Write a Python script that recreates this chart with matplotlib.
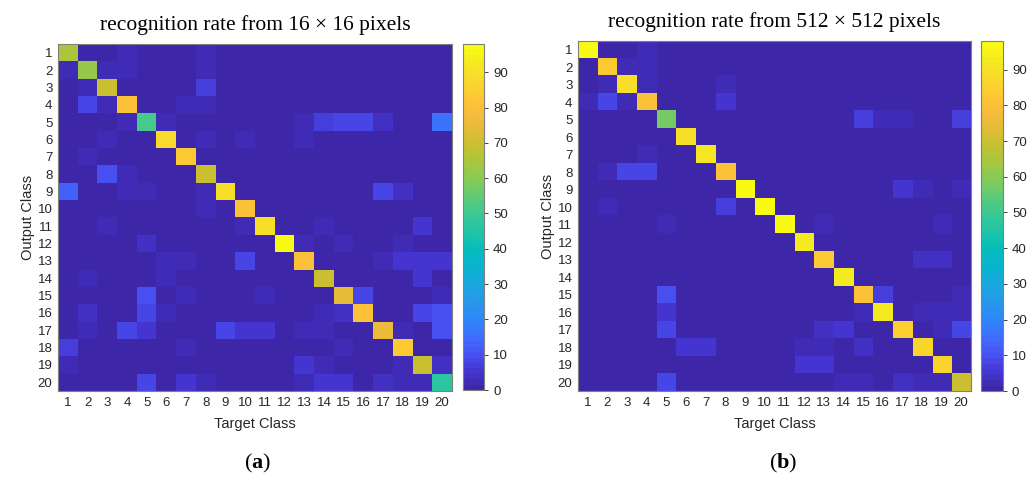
import numpy as np
import matplotlib
matplotlib.use("Agg")
import matplotlib.pyplot as plt
from matplotlib.colors import LinearSegmentedColormap

# clases 1..20 (filas = salida, columnas = objetivo)
clases = list(range(1, 21))
titulo_a = "recognition rate from 16 \u00d7 16 pixels"
titulo_b = "recognition rate from 512 \u00d7 512 pixels"

conf_16 = [
    [65, 0, 1, 3, 0, 0, 0, 2, 0, 0, 0, 0, 0, 0, 0, 0, 0, 0, 0, 0],
    [2, 62, 3, 3, 0, 0, 0, 2, 0, 0, 0, 0, 0, 0, 0, 0, 0, 0, 0, 0],
    [0, 3, 70, 0, 0, 0, 0, 7, 0, 0, 0, 0, 0, 0, 0, 0, 0, 0, 0, 0],
    [0, 8, 3, 80, 0, 0, 2, 2, 0, 0, 0, 0, 0, 0, 0, 0, 0, 0, 0, 0],
    [0, 0, 0, 2, 52, 2, 0, 0, 0, 0, 0, 0, 3, 7, 9, 9, 4, 0, 0, 16],
    [0, 0, 2, 0, 0, 88, 0, 2, 0, 3, 0, 0, 3, 0, 0, 0, 0, 0, 0, 0],
    [0, 2, 0, 0, 0, 0, 83, 0, 0, 0, 0, 0, 0, 0, 0, 0, 0, 0, 0, 0],
    [0, 0, 10, 2, 0, 0, 0, 70, 0, 0, 0, 0, 0, 0, 0, 0, 0, 0, 0, 0],
    [13, 0, 0, 3, 3, 0, 0, 2, 90, 0, 0, 0, 0, 0, 0, 0, 8, 4, 0, 0],
    [0, 0, 0, 0, 0, 0, 0, 3, 0, 80, 0, 0, 0, 0, 0, 0, 0, 0, 0, 0],
    [0, 0, 3, 0, 0, 0, 0, 0, 0, 3, 89, 0, 0, 3, 0, 0, 0, 0, 6, 0],
    [0, 0, 0, 0, 4, 0, 0, 0, 0, 0, 0, 97, 3, 0, 3, 0, 0, 2, 0, 0],
    [0, 0, 0, 0, 0, 2, 3, 0, 0, 8, 0, 0, 80, 0, 0, 0, 2, 6, 6, 6],
    [0, 3, 0, 0, 0, 2, 0, 0, 0, 0, 0, 0, 0, 70, 0, 0, 0, 0, 5, 0],
    [0, 0, 0, 0, 10, 0, 3, 0, 0, 0, 3, 0, 0, 0, 74, 8, 0, 0, 0, 3],
    [0, 4, 0, 0, 9, 3, 0, 0, 0, 0, 0, 0, 0, 2, 4, 80, 0, 0, 8, 10],
    [0, 2, 0, 9, 5, 0, 0, 0, 9, 6, 6, 0, 3, 3, 0, 0, 76, 2, 0, 10],
    [7, 0, 0, 0, 0, 0, 3, 0, 0, 0, 0, 0, 0, 0, 3, 0, 0, 84, 0, 0],
    [2, 0, 0, 0, 0, 0, 0, 0, 0, 0, 0, 0, 5, 2, 0, 0, 0, 2, 70, 4],
    [0, 1, 1, 0, 9, 0, 5, 2, 0, 0, 0, 0, 3, 5, 5, 0, 4, 2, 3, 46],
]

conf_512 = [
    [98, 0, 0, 3, 0, 0, 0, 0, 0, 0, 0, 0, 0, 0, 0, 0, 0, 0, 0, 0],
    [0, 84, 3, 2, 0, 0, 0, 0, 0, 0, 0, 0, 0, 0, 0, 0, 0, 0, 0, 0],
    [0, 2, 89, 3, 0, 0, 0, 3, 0, 0, 0, 0, 0, 0, 0, 0, 0, 0, 0, 0],
    [3, 8, 2, 80, 0, 0, 0, 5, 0, 0, 0, 0, 0, 0, 0, 0, 0, 0, 0, 0],
    [0, 0, 0, 0, 57, 0, 0, 0, 0, 0, 0, 0, 0, 0, 7, 3, 3, 0, 0, 7],
    [0, 0, 0, 0, 0, 90, 0, 0, 0, 0, 0, 0, 0, 0, 0, 0, 0, 0, 0, 0],
    [0, 0, 0, 3, 0, 0, 91, 0, 0, 0, 0, 0, 0, 0, 0, 0, 0, 0, 0, 0],
    [0, 2, 8, 9, 0, 0, 0, 81, 0, 0, 0, 0, 0, 0, 0, 0, 0, 0, 0, 0],
    [0, 0, 0, 0, 0, 0, 0, 0, 98, 0, 0, 0, 0, 0, 0, 0, 5, 3, 0, 2],
    [0, 2, 0, 0, 0, 0, 0, 7, 0, 98, 0, 0, 0, 0, 0, 0, 0, 0, 0, 0],
    [0, 0, 0, 0, 2, 0, 0, 0, 0, 0, 98, 0, 3, 0, 0, 0, 0, 0, 3, 0],
    [0, 0, 0, 0, 0, 0, 0, 0, 0, 0, 0, 92, 0, 0, 0, 0, 0, 0, 0, 0],
    [0, 0, 0, 0, 0, 0, 0, 0, 0, 0, 0, 0, 84, 0, 0, 0, 0, 4, 4, 0],
    [0, 0, 0, 0, 0, 0, 0, 0, 0, 0, 0, 0, 0, 92, 0, 0, 0, 0, 0, 0],
    [0, 0, 0, 0, 10, 0, 0, 0, 0, 0, 0, 0, 0, 0, 80, 7, 0, 0, 0, 2],
    [0, 0, 0, 0, 5, 0, 0, 0, 0, 0, 0, 0, 0, 0, 2, 92, 0, 3, 3, 3],
    [0, 0, 0, 0, 9, 0, 0, 0, 0, 0, 0, 0, 4, 5, 0, 0, 85, 1, 2, 9],
    [0, 0, 0, 0, 0, 5, 6, 0, 0, 0, 0, 3, 3, 0, 4, 0, 0, 87, 0, 0],
    [0, 0, 0, 0, 0, 0, 0, 0, 0, 0, 0, 5, 5, 0, 0, 0, 0, 0, 87, 0],
    [0, 0, 0, 0, 9, 0, 0, 0, 0, 0, 0, 0, 0, 3, 3, 0, 4, 3, 3, 70],
]

# parula aproximado (64 colores, como en MATLAB)
nodos = [
    (0.00, (0.2422, 0.1504, 0.6603)),
    (0.05, (0.2691, 0.2144, 0.8260)),
    (0.10, (0.2810, 0.3228, 0.9579)),
    (0.15, (0.2440, 0.4358, 0.9988)),
    (0.20, (0.1786, 0.5289, 0.9682)),
    (0.25, (0.1540, 0.5902, 0.9218)),
    (0.30, (0.1056, 0.6513, 0.8750)),
    (0.35, (0.0326, 0.7028, 0.8154)),
    (0.40, (0.0156, 0.7384, 0.7416)),
    (0.45, (0.1080, 0.7683, 0.6681)),
    (0.50, (0.2161, 0.7843, 0.5923)),
    (0.55, (0.3400, 0.7950, 0.4900)),
    (0.60, (0.4970, 0.7970, 0.3640)),
    (0.65, (0.6400, 0.7820, 0.2550)),
    (0.70, (0.7600, 0.7590, 0.1900)),
    (0.75, (0.8780, 0.7370, 0.2100)),
    (0.80, (0.9700, 0.7320, 0.2470)),
    (0.85, (0.9950, 0.7820, 0.2010)),
    (0.90, (0.9740, 0.8500, 0.1700)),
    (0.95, (0.9580, 0.9160, 0.1280)),
    (1.00, (0.9769, 0.9839, 0.0805)),
]
parula = LinearSegmentedColormap.from_list("parula", nodos, N=64)

plt.rcParams["font.family"] = ["Liberation Sans", "DejaVu Sans"]
plt.rcParams["mathtext.fontset"] = "custom"
plt.rcParams["mathtext.rm"] = "Liberation Serif"
plt.rcParams["mathtext.bf"] = "Liberation Serif:bold"

fig = plt.figure(figsize=(10.31, 4.79), dpi=100)

paneles = [
    (conf_16, titulo_a, [0.0563, 0.1837, 0.3821, 0.7244], [0.4491, 0.1858, 0.0204, 0.7223], "a", 0.250),
    (conf_512, titulo_b, [0.5606, 0.1837, 0.3812, 0.7307], [0.9515, 0.1837, 0.0213, 0.7307], "b", 0.760),
]

for datos, titulo, pos, pos_cb, letra, x_letra in paneles:
    ax = fig.add_axes(pos)
    m = np.array(datos, dtype=float)
    im = ax.imshow(m, cmap=parula, vmin=0, vmax=98, aspect="auto",
                   extent=(0.5, 20.5, 20.5, 0.5), interpolation="nearest")
    ax.set_xticks(clases)
    ax.set_yticks(clases)
    ax.set_xticklabels([str(c) for c in clases])
    ax.set_yticklabels([str(c) for c in clases])
    ax.tick_params(length=0, labelsize=9.5, colors="#262626", pad=4)
    for s in ax.spines.values():
        s.set_color("#7f7f7f")
        s.set_linewidth(0.8)
    ax.set_xlabel("Target Class", fontsize=10.5, color="#262626", labelpad=6)
    ax.set_ylabel("Output Class", fontsize=10.5, color="#262626", labelpad=2)
    ax.set_title(titulo, fontsize=15.5, family="Liberation Serif", pad=10)

    cax = fig.add_axes(pos_cb)
    cb = fig.colorbar(im, cax=cax)
    cb.set_ticks(range(0, 100, 10))
    cb.ax.tick_params(labelsize=9.5, length=3, width=0.6, colors="#262626", direction="out")
    cb.outline.set_edgecolor("#7f7f7f")
    cb.outline.set_linewidth(0.8)

    fig.text(x_letra, 0.033, r"$\mathrm{(}\mathbf{%s}\mathrm{)}$" % letra,
             fontsize=16, ha="center", va="center")

fig.savefig("out.png", dpi=100)
